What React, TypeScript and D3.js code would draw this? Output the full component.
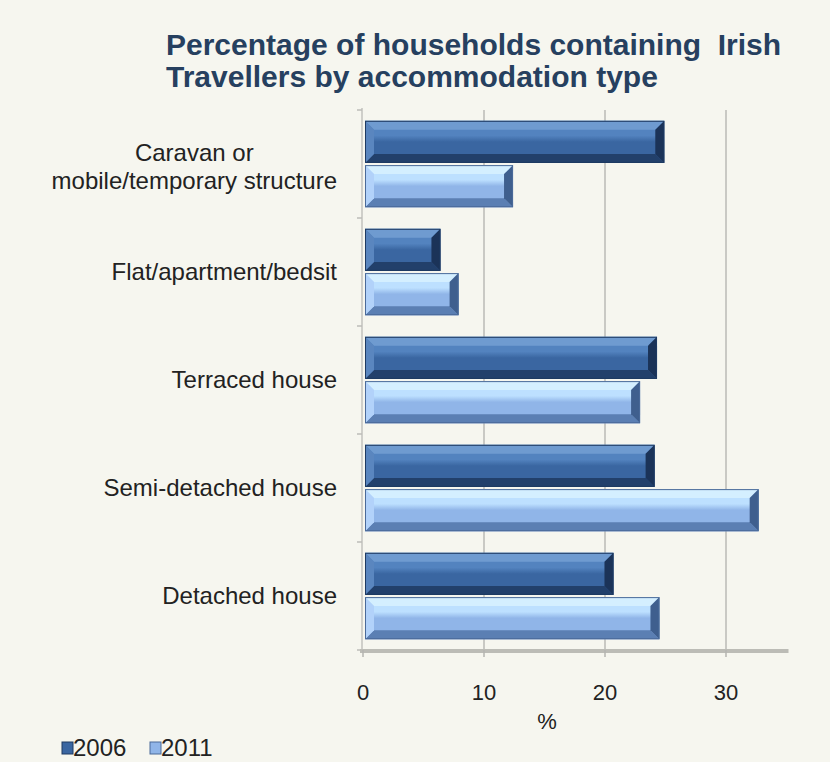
import * as React from 'react'
import * as d3 from 'd3'

const categories = [
    'Caravan or\nmobile/temporary structure',
    'Flat/apartment/bedsit',
    'Terraced house',
    'Semi-detached house',
    'Detached house',
]
const seriesNames = ['2006', '2011']
const values2006 = [24.9, 6.4, 24.3, 24.1, 20.7]
const values2011 = [12.4, 7.9, 22.9, 32.7, 24.5]
const xTicks = [0, 10, 20, 30]
const titleLines = ['Percentage of households containing\u00a0 Irish', 'Travellers by accommodation type']

const WIDTH = 830
const HEIGHT = 762
const BG = '#f6f6ef'
const FONT = 'Arial, "Liberation Sans", sans-serif'
const LABEL_SIZE = 24

const PALETTE = {
    '2006': { top: '#6f9bd0', face: '#3a66a1', faceHi: '#5383bf', bottom: '#22406b', left: '#5a86bf', right: '#1b3358', edge: '#1e3a62' },
    '2011': { top: '#d4efff', face: '#90b5e8', faceHi: '#bde0ff', bottom: '#5b7fb3', left: '#b2d2fa', right: '#3f5f8e', edge: '#4a6a99' },
}

function measure(text: string, size: number) {
    const c = document.createElement('canvas').getContext('2d')
    if (!c) return text.length * size * 0.5
    c.font = `${size}px Arial, "Liberation Sans"`
    return c.measureText(text).width
}

function BevelBar({ x, y, w, h, series }: { x: number, y: number, w: number, h: number, series: string }) {
    const p = PALETTE[series]
    const b = Math.min(9, w / 2)
    const pts = (arr: number[][]) => arr.map(a => a.join(',')).join(' ')
    const id = `face-${series}`
    return <g>
        <rect x={x} y={y} width={w} height={h} fill={`url(#${id})`} />
        <polygon points={pts([[x, y], [x + w, y], [x + w - b, y + b], [x + b, y + b]])} fill={p.top} />
        <polygon points={pts([[x, y + h], [x + w, y + h], [x + w - b, y + h - b], [x + b, y + h - b]])} fill={p.bottom} />
        <polygon points={pts([[x, y], [x + b, y + b], [x + b, y + h - b], [x, y + h]])} fill={p.left} />
        <polygon points={pts([[x + w, y], [x + w - b, y + b], [x + w - b, y + h - b], [x + w, y + h]])} fill={p.right} />
        <rect x={x + 0.5} y={y + 0.5} width={w - 1} height={h - 1} fill="none" stroke={p.edge} strokeWidth={1} />
    </g>
}

export default function App() {
    const left = 363
    const top = 110
    const bottom = 650
    const xMax = 35

    const x = d3.scaleLinear().domain([0, xMax]).range([left, left + xMax * 12.1])
    const y = d3.scaleBand().domain(categories).range([top, bottom]).paddingInner(0.2).paddingOuter(0.1)
    const ySub = d3.scaleBand().domain(seriesNames).range([0, y.bandwidth()]).paddingInner(0.05)
    const step = y.step()

    const data = categories.map((c, i) => ({ cat: c, values: { '2006': values2006[i], '2011': values2011[i] } }))

    return <div style={{ position: 'absolute', left: 0, top: 0 }}>
        <svg width={WIDTH} height={HEIGHT} viewBox={`0 0 ${WIDTH} ${HEIGHT}`} style={{ display: 'block', fontFamily: FONT }}>
            <defs>
                {seriesNames.map(s =>
                    <linearGradient key={s} id={`face-${s}`} x1="0" y1="0" x2="0" y2="1">
                        <stop offset="0" stopColor={PALETTE[s].faceHi} />
                        <stop offset="0.35" stopColor={PALETTE[s].faceHi} />
                        <stop offset="0.5" stopColor={PALETTE[s].face} />
                        <stop offset="1" stopColor={PALETTE[s].face} />
                    </linearGradient>
                )}
            </defs>
            <rect width={WIDTH} height={HEIGHT} fill={BG} />

            {titleLines.map((t, i) =>
                <text key={i} x={166} y={55 + i * 32} fontSize={30} fontWeight="bold" fill="#26405f">{t}</text>
            )}

            {xTicks.filter(t => t > 0).map(t =>
                <line key={t} x1={x(t)} x2={x(t)} y1={top} y2={bottom} stroke="#c9c9c4" strokeWidth={2} />
            )}

            <line x1={left - 1} x2={left - 1} y1={top - 2} y2={bottom} stroke="#cfcfca" strokeWidth={2} />
            {d3.range(categories.length + 1).map(i =>
                <line key={i} x1={left - 6} x2={left - 1} y1={top + i * step} y2={top + i * step} stroke="#bdbdb8" strokeWidth={1.5} />
            )}

            {data.map(d =>
                seriesNames.map(s =>
                    <BevelBar key={d.cat + s}
                        x={x(0) + 2}
                        y={(y(d.cat) as number) + (ySub(s) as number)}
                        w={x(d.values[s]) - x(0) - 2}
                        h={ySub.bandwidth()}
                        series={s} />
                )
            )}

            <line x1={left - 3} x2={x(xMax) + 2} y1={bottom + 1} y2={bottom + 1} stroke="#bcbcb6" strokeWidth={4} />
            {xTicks.map(t =>
                <line key={t} x1={x(t)} x2={x(t)} y1={bottom} y2={bottom + 7} stroke="#b5b5b0" strokeWidth={1.5} />
            )}
            {xTicks.map(t =>
                <text key={t} x={x(t)} y={700} fontSize={22} textAnchor="middle" fill="#222">{t}</text>
            )}
            <text x={547} y={729} fontSize={22} textAnchor="middle" fill="#222">%</text>

            {categories.map(c => {
                const lines = c.split('\n')
                const lh = 28
                const cy = (y(c) as number) + y.bandwidth() / 2 + (lines.length > 1 ? 3 : 0)
                const maxW = Math.max(...lines.map(l => measure(l, LABEL_SIZE)))
                const cx = 337 - maxW / 2
                return <text key={c} fontSize={LABEL_SIZE} fill="#222" textAnchor="middle">
                    {lines.map((l, i) =>
                        <tspan key={i} x={cx} y={cy + (i - (lines.length - 1) / 2) * lh} dy="0.35em">{l}</tspan>
                    )}
                </text>
            })}

            {seriesNames.map((s, i) => {
                const lx = 62 + i * 88
                return <g key={s}>
                    <rect x={lx} y={742} width={11} height={12} fill={PALETTE[s].face} stroke={PALETTE[s].edge} strokeWidth={1} />
                    <text x={lx + 11} y={756} fontSize={24} fill="#222">{s}</text>
                </g>
            })}
        </svg>
    </div>
}
